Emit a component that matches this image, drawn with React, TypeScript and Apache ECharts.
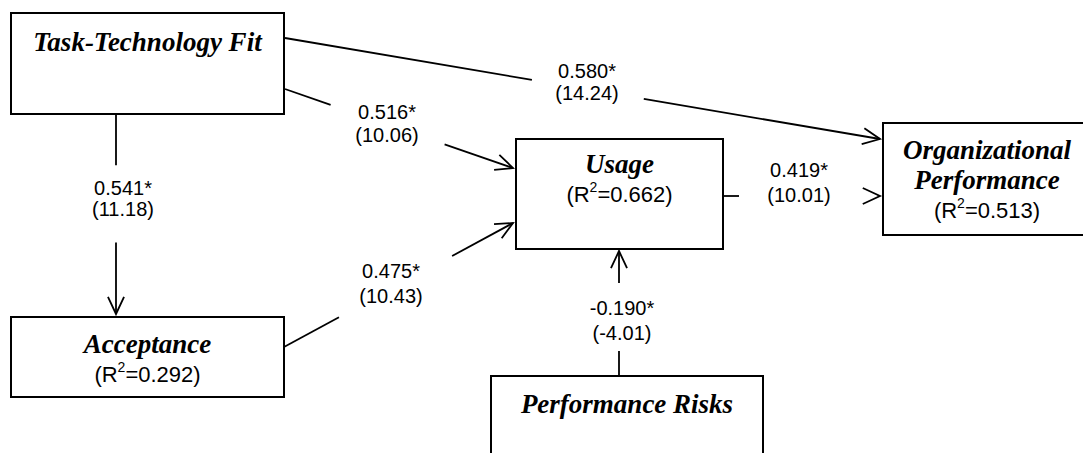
import React, { useEffect, useRef } from "react";
import * as echarts from "echarts";

// ---- data ----
const constructs = [
  "Task-Technology Fit",
  "Acceptance",
  "Usage",
  "Organizational\nPerformance",
  "Performance Risks",
];
const rSquared: (string | null)[] = [null, "0.292", "0.662", "0.513", null];
const pathFrom = [0, 0, 0, 1, 2, 4];
const pathTo = [3, 2, 1, 2, 3, 2];
const coefficients = ["0.580*", "0.516*", "0.541*", "0.475*", "0.419*", "-0.190*"];
const tValues = ["(14.24)", "(10.06)", "(11.18)", "(10.43)", "(10.01)", "(-4.01)"];

// ---- layout (diagram coordinates) ----
const boxRects = [
  [11, 13, 284, 114],
  [11, 317, 284, 397],
  [516, 139, 723, 249],
  [883, 123, 1091, 235],
  [491, 376, 763, 470],
];
const titleY = [[42], [344], [164], [150, 180], [404]];
const r2Y: (number | null)[] = [null, 374, 194, 210, null];
const pathStart = [[285, 38], [285, 89], [116, 114], [284, 347], [723, 196], [619, 376]];
const pathEnd = [[880, 139], [513, 168], [116, 314], [513, 223], [880, 196], [619, 251]];
const gaps = [[0.415, 0.603], [0.2, 0.7], [0.256, 0.643], [0.24, 0.734], [0.102, 0.985], [0.2, 0.744]];
const labelPos = [[587, 71, 93], [387, 112, 135], [123, 188, 209], [391, 271, 296], [799, 170, 195], [622, 308, 333]];

const SANS = '"Liberation Sans", Arial, sans-serif';
const SERIF = '"Liberation Serif", "Times New Roman", serif';
const TITLE_SIZE = 27;
const LABEL_SIZE = 20;
const R2_SIZE = 22;
const SUP_SIZE = 14;

let measureCtx: CanvasRenderingContext2D | null = null;
function textWidth(text: string, font: string): number {
  if (!measureCtx) measureCtx = document.createElement("canvas").getContext("2d");
  if (!measureCtx) return text.length * 10;
  measureCtx.font = font;
  return measureCtx.measureText(text).width;
}

export default function App() {
  const ref = useRef<HTMLDivElement>(null);

  useEffect(() => {
    if (!ref.current) return;
    const chart = echarts.init(ref.current, undefined, { renderer: "svg" });

    const boxRender = (params: any, api: any) => {
      const i = api.value(0);
      const [x0, y0, x1, y1] = boxRects[i];
      const p0 = api.coord([x0, y0]);
      const p1 = api.coord([x1, y1]);
      const cx = (p0[0] + p1[0]) / 2;
      const children: any[] = [
        {
          type: "rect",
          shape: { x: p0[0], y: p0[1], width: p1[0] - p0[0], height: p1[1] - p0[1] },
          style: { fill: "#fff", stroke: "#000", lineWidth: 2 },
        },
      ];
      const lines = constructs[i].split("\n");
      lines.forEach((ln, k) => {
        const py = api.coord([0, titleY[i][k]])[1];
        children.push({
          type: "text",
          x: cx,
          y: py,
          style: {
            text: ln,
            fill: "#000",
            font: `italic bold ${TITLE_SIZE}px ${SERIF}`,
            align: "center",
            verticalAlign: "middle",
          },
        });
      });
      const r2 = rSquared[i];
      const ry = r2Y[i];
      if (r2 && ry != null) {
        const py = api.coord([0, ry])[1];
        const f = `${R2_SIZE}px ${SANS}`;
        const fs = `${SUP_SIZE}px ${SANS}`;
        const a = "(R";
        const b = "2";
        const c = `=${r2})`;
        const wa = textWidth(a, f);
        const wb = textWidth(b, fs);
        const wc = textWidth(c, f);
        const sx = cx - (wa + wb + wc) / 2;
        children.push({
          type: "text", x: sx, y: py,
          style: { text: a, fill: "#000", font: f, align: "left", verticalAlign: "middle" },
        });
        children.push({
          type: "text", x: sx + wa, y: py - 7,
          style: { text: b, fill: "#000", font: fs, align: "left", verticalAlign: "middle" },
        });
        children.push({
          type: "text", x: sx + wa + wb, y: py,
          style: { text: c, fill: "#000", font: f, align: "left", verticalAlign: "middle" },
        });
      }
      return { type: "group", children };
    };

    const pathRender = (params: any, api: any) => {
      const i = api.value(0);
      const s = api.coord(pathStart[i]);
      const e = api.coord(pathEnd[i]);
      const [t0, t1] = gaps[i];
      const lerp = (t: number) => [s[0] + (e[0] - s[0]) * t, s[1] + (e[1] - s[1]) * t];
      const g0 = lerp(t0);
      const g1 = lerp(t1);
      const ang = Math.atan2(e[1] - s[1], e[0] - s[0]);
      const L = 19;
      const half = (25 * Math.PI) / 180;
      const a1 = [e[0] - L * Math.cos(ang - half), e[1] - L * Math.sin(ang - half)];
      const a2 = [e[0] - L * Math.cos(ang + half), e[1] - L * Math.sin(ang + half)];
      const lineStyle = { stroke: "#000", lineWidth: 1.8, fill: null };
      const lp = labelPos[i];
      const lx = api.coord([lp[0], 0])[0];
      const ly1 = api.coord([0, lp[1]])[1];
      const ly2 = api.coord([0, lp[2]])[1];
      return {
        type: "group",
        children: [
          { type: "line", shape: { x1: s[0], y1: s[1], x2: g0[0], y2: g0[1] }, style: lineStyle },
          { type: "line", shape: { x1: g1[0], y1: g1[1], x2: e[0], y2: e[1] }, style: lineStyle },
          { type: "polyline", shape: { points: [a1, [e[0], e[1]], a2] }, style: { stroke: "#000", lineWidth: 1.8, fill: "none" } },
          {
            type: "text", x: lx, y: ly1,
            style: { text: coefficients[i], fill: "#000", font: `${LABEL_SIZE}px ${SANS}`, align: "center", verticalAlign: "middle" },
          },
          {
            type: "text", x: lx, y: ly2,
            style: { text: tValues[i], fill: "#000", font: `${LABEL_SIZE}px ${SANS}`, align: "center", verticalAlign: "middle" },
          },
        ],
      };
    };

    chart.setOption({
      animation: false,
      backgroundColor: "#fff",
      grid: { left: 0, right: 0, top: 0, bottom: 0 },
      xAxis: { type: "value", min: 0, max: 1083, show: false },
      yAxis: { type: "value", min: 0, max: 453, inverse: true, show: false },
      series: [
        {
          type: "custom",
          name: "paths",
          clip: false,
          renderItem: pathRender,
          data: pathFrom.map((f, i) => [i, pathTo[i], f]),
          silent: true,
        },
        {
          type: "custom",
          name: "constructs",
          clip: false,
          renderItem: boxRender,
          data: constructs.map((_, i) => [i, 0]),
          silent: true,
          z: 3,
        },
      ],
    });

    return () => chart.dispose();
  }, []);

  return (
    <div
      ref={ref}
      style={{ position: "fixed", left: 0, top: 0, width: 1083, height: 453, background: "#fff" }}
    />
  );
}
